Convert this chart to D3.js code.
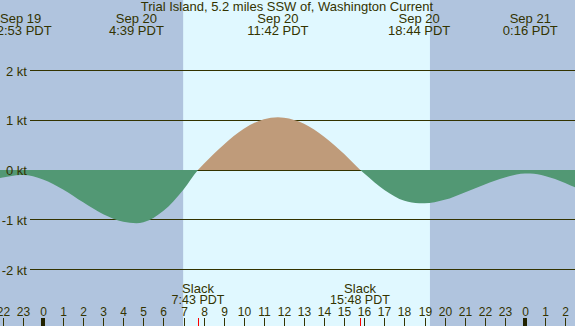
<!DOCTYPE html>
<html>
<head>
<meta charset="utf-8">
<script src="https://cdn.jsdelivr.net/npm/d3@7"></script>
<style>
	body { margin: 0; padding: 0; background: #ffffff; }
	svg { display: block; font-family: "Liberation Sans", Arial, sans-serif; }
</style>
</head>
<body>
<div id="chart"></div>
<script>

// Title
var chartTitle = "Trial Island, 5.2 miles SSW of, Washington Current";

// Current speed (kt), hours from Sep 20 0:00 PDT
var curveHours  = [-3, -2, -1, 0, 1, 2, 3, 4, 5, 6, 7, 8, 9, 10, 11, 12, 13, 14, 15, 16, 17, 18, 19, 20, 21, 22, 23, 24, 25, 26, 27];
var curveValues = [-0.22, -0.15, -0.10, -0.19, -0.39, -0.65, -0.89, -1.04, -1.05, -0.82, -0.39, 0.12, 0.51, 0.83, 1.02, 1.05, 0.93, 0.67, 0.32, -0.07, -0.40, -0.62, -0.67, -0.60, -0.45, -0.29, -0.15, -0.07, -0.12, -0.26, -0.45];

// Max / min current events (top labels)
var peakDays   = [-1, 0, 0, 0, 1];
var peakDates  = ["Sep 19", "Sep 20", "Sep 20", "Sep 20", "Sep 21"];
var peakTimes  = ["22:53", "4:39", "11:42", "18:44", "0:16"];
var peakValues = [-0.10, -1.07, 1.06, -0.67, -0.07];

// Slack events (bottom labels)
var slackDays  = [0, 0];
var slackTimes = ["7:43", "15:48"];

// Daylight
var sunrise = 6.98;
var sunset = 19.27;

// Axis ticks
var ktTicks = [2, 1, 0, -1, -2];

(function(){

	var width = 575, height = 326;
	var textColor = "#333300";

	function toHours(day, str){
		var p = str.split(":");
		return day * 24 + (+p[0]) + (+p[1]) / 60;
	}

	var x = d3.scaleLinear().domain([-2.1414, 26.494]).range([0, width]);
	var y = d3.scaleLinear().domain([-2, 2]).range([269.5, 70.5]);

	var svg = d3.select("#chart").append("svg")
		.attr("width", width)
		.attr("height", height);

	// Night / day background
	svg.append("rect")
		.attr("x", 0).attr("y", 0)
		.attr("width", width).attr("height", height)
		.style("fill", "#b0c4de");

	svg.append("rect")
		.attr("x", x(sunrise)).attr("y", 0)
		.attr("width", x(sunset) - x(sunrise)).attr("height", height)
		.style("fill", "#e0f8ff");

	// Grid lines
	ktTicks.forEach(function(k){
		var yy = Math.floor(y(k)) + 0.5;
		svg.append("line")
			.attr("x1", 30).attr("x2", width)
			.attr("y1", yy).attr("y2", yy)
			.attr("stroke", textColor)
			.attr("stroke-width", 1);
	});

	// Build the curve points, events and slacks included
	var points = curveHours.map(function(h, i){ return {h: h, v: curveValues[i]}; });
	peakTimes.forEach(function(t, i){
		points.push({h: toHours(peakDays[i], t), v: peakValues[i]});
	});
	slackTimes.forEach(function(t, i){
		points.push({h: toHours(slackDays[i], t), v: 0});
	});
	points.sort(function(a, b){ return a.h - b.h; });

	var area = d3.area()
		.x(function(d){ return x(d.h); })
		.y0(y(0))
		.y1(function(d){ return y(d.v); })
		.curve(d3.curveMonotoneX);

	var defs = svg.append("defs");
	defs.append("clipPath").attr("id", "clipFlood")
		.append("rect")
		.attr("x", 0).attr("y", 0)
		.attr("width", width).attr("height", y(0));
	defs.append("clipPath").attr("id", "clipEbb")
		.append("rect")
		.attr("x", 0).attr("y", y(0))
		.attr("width", width).attr("height", height - y(0));

	svg.append("path")
		.datum(points)
		.attr("d", area)
		.attr("clip-path", "url(#clipFlood)")
		.style("fill", "#bf9b7a");

	svg.append("path")
		.datum(points)
		.attr("d", area)
		.attr("clip-path", "url(#clipEbb)")
		.style("fill", "#529874");

	// Y labels
	ktTicks.forEach(function(k){
		svg.append("text")
			.attr("x", 27)
			.attr("y", y(k) + 5)
			.attr("text-anchor", "end")
			.style("font-size", "13px")
			.style("fill", textColor)
			.text(k + " kt");
	});

	// Title
	svg.append("text")
		.attr("x", 287)
		.attr("y", 11)
		.attr("text-anchor", "middle")
		.style("font-size", "13px")
		.style("fill", textColor)
		.text(chartTitle);

	// Max / min labels on top
	peakTimes.forEach(function(t, i){
		var px = x(toHours(peakDays[i], t));
		var g = svg.append("g").attr("transform", "translate(" + px + ",0)");
		g.append("text").attr("y", 23).attr("text-anchor", "middle")
			.style("font-size", "13px").style("fill", textColor)
			.text(peakDates[i]);
		g.append("text").attr("y", 35).attr("text-anchor", "middle")
			.style("font-size", "13px").style("fill", textColor)
			.text(t + " PDT");
	});

	// Hour ticks
	for(var h = Math.ceil(x.domain()[0]); h <= Math.floor(x.domain()[1]); h++){
		var hx = Math.round(x(h));
		var hour = ((h % 24) + 24) % 24;
		if(hour == 0){
			svg.append("rect")
				.attr("x", hx - 2).attr("y", 318)
				.attr("width", 4).attr("height", 8)
				.style("fill", "#222200");
		}
		else{
			svg.append("line")
				.attr("x1", hx + 0.5).attr("x2", hx + 0.5)
				.attr("y1", 318).attr("y2", height)
				.attr("stroke", textColor);
		}
		svg.append("text")
			.attr("x", hx + 0.5)
			.attr("y", 316)
			.attr("text-anchor", "middle")
			.style("font-size", "12px")
			.style("fill", textColor)
			.text(hour);
	}

	// Slack labels and red ticks
	slackTimes.forEach(function(t, i){
		var sx = Math.round(x(toHours(slackDays[i], t)));
		svg.append("line")
			.attr("x1", sx + 0.5).attr("x2", sx + 0.5)
			.attr("y1", 318).attr("y2", height)
			.attr("stroke", "#ff0000");
		svg.append("text").attr("x", sx).attr("y", 293)
			.attr("text-anchor", "middle")
			.style("font-size", "13px").style("fill", textColor)
			.text("Slack");
		svg.append("text").attr("x", sx).attr("y", 304)
			.attr("text-anchor", "middle")
			.style("font-size", "12.5px").style("fill", textColor)
			.text(t + " PDT");
	});

})();

</script>
</body>
</html>
